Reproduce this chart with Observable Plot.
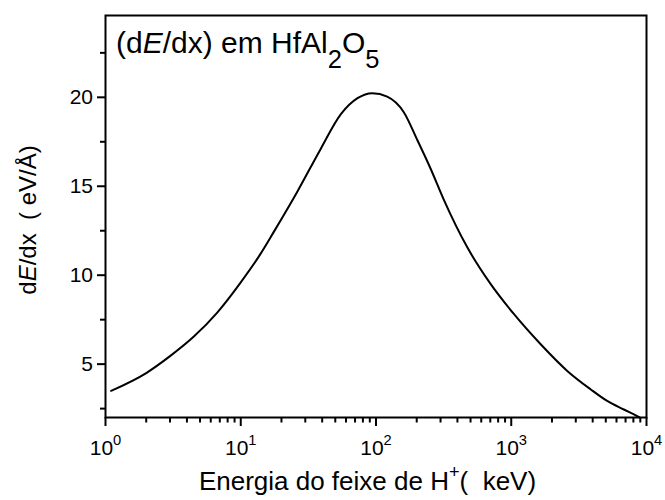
<!DOCTYPE html>
<html>
<head>
<meta charset="utf-8">
<script src="https://cdn.jsdelivr.net/npm/d3@7"></script>
<script src="https://cdn.jsdelivr.net/npm/@observablehq/plot@0.6"></script>
<style>
  html, body { margin: 0; padding: 0; background: #fff; }
  #chart svg { display: block; }
</style>
</head>
<body>
<div id="chart"></div>
<script>
// Stopping power dE/dx of H+ ions in HfAl2O5 as a function of beam energy.
const energy = [1.1, 2, 3, 4.5, 6.7, 10, 14, 17.6, 26, 39, 55, 73, 94, 121, 161, 202, 253, 317, 472, 703, 1045, 1644, 2594, 3853, 5120, 6800, 8530, 8900];
const stopping = [3.5, 4.5, 5.45, 6.55, 7.9, 9.6, 11.2, 12.45, 14.65, 17.1, 19.05, 19.95, 20.23, 20.04, 19.15, 17.6, 16.0, 14.25, 11.58, 9.51, 7.82, 6.13, 4.62, 3.59, 2.93, 2.45, 2.08, 2.0];

// Axis ticks (log x axis, linear y axis)
const xMajorTicks = [1, 10, 100, 1000, 10000];
const xMinorTicks = [1, 10, 100, 1000].flatMap(d => [2, 3, 4, 5, 6, 7, 8, 9].map(k => k * d));
const yMajorTicks = [5, 10, 15, 20];
const yMinorTicks = [2.5, 7.5, 12.5, 17.5, 22.5];

// Texts; ^x = superscript, _x = subscript, *...* = italic
const titleText = "(d*E*/dx) em HfAl_2O_5";
const xTitle = "Energia do feixe de H^+(  keV)";
const yTitle = "d*E*/dx  ( eV/Å)";

const points = energy.map((e, i) => ({energy: e, dedx: stopping[i]}));

const W = 665, H = 500;
const M = {top: 15, right: 19, bottom: 83, left: 105};
const FONT = "'Liberation Sans', Arial, Helvetica, sans-serif";
const TICK_FONT = 21;

const svg = Plot.plot({
  width: W,
  height: H,
  marginTop: M.top,
  marginRight: M.right,
  marginBottom: M.bottom,
  marginLeft: M.left,
  style: {fontFamily: FONT, fontSize: TICK_FONT + "px", color: "#000", background: "#fff", overflow: "visible"},
  x: {type: "log", domain: [1, 10000]},
  y: {domain: [2, 24.6]},
  marks: [
    Plot.axisX({ticks: xMinorTicks, tickSize: 5.5, strokeWidth: 2, tickFormat: () => "", label: null}),
    Plot.axisX({ticks: xMajorTicks, tickSize: 9, tickPadding: 14, strokeWidth: 2, fontSize: TICK_FONT,
      tickFormat: d => "10^" + Math.round(Math.log10(d)), label: null}),
    Plot.axisY({ticks: yMinorTicks, tickSize: 5, strokeWidth: 2, tickFormat: () => "", label: null}),
    Plot.axisY({ticks: yMajorTicks, tickSize: 8, tickPadding: 4.5, strokeWidth: 2, fontSize: TICK_FONT, label: null}),
    Plot.line(points, {x: "energy", y: "dedx", stroke: "#000", strokeWidth: 2, curve: "monotone-x"}),
    Plot.frame({stroke: "#000", strokeWidth: 2})
  ]
});

// Turn the little markup into tspans (italic, superscript, subscript)
function richText(el, size, opts = {}) {
  const {supScale = 0.7, supShift = -0.5, subScale = 0.7, subShift = 0.3} = opts;
  const src = el.textContent;
  while (el.firstChild) el.removeChild(el.firstChild);
  el.setAttribute("xml:space", "preserve");
  el.style.whiteSpace = "pre";
  let base = 0, italic = false;
  for (const m of src.matchAll(/\*|([\^_])(.)|[^*^_]+/g)) {
    if (m[0] === "*") { italic = !italic; continue; }
    const span = document.createElementNS("http://www.w3.org/2000/svg", "tspan");
    let off = 0, fs = size, txt = m[0];
    if (m[1]) {
      txt = m[2];
      if (m[1] === "^") { off = supShift * size; fs = supScale * size; }
      else { off = subShift * size; fs = subScale * size; }
    }
    if (off !== base) span.setAttribute("dy", off - base);
    base = off;
    span.setAttribute("font-size", fs);
    if (italic) span.setAttribute("font-style", "italic");
    span.textContent = txt;
    el.appendChild(span);
  }
}

// Exponent tick labels on the x axis
d3.select(svg).selectAll("text").each(function() {
  if (this.textContent.includes("^")) richText(this, TICK_FONT);
});

const root = d3.select(svg);
const frameCx = M.left + (W - M.left - M.right) / 2;
const frameCy = M.top + (H - M.top - M.bottom) / 2;

// Panel title inside the frame
const t = root.append("text")
  .attr("x", 116).attr("y", 53.3)
  .attr("text-anchor", "start")
  .attr("font-family", FONT).attr("font-size", 30).attr("fill", "#000")
  .text(titleText);
richText(t.node(), 30, {subScale: 0.85, subShift: 0.5});

// x axis title
const xt = root.append("text")
  .attr("x", frameCx - 8).attr("y", 490)
  .attr("text-anchor", "middle")
  .attr("font-family", FONT).attr("font-size", 26).attr("fill", "#000")
  .text(xTitle);
richText(xt.node(), 26, {supScale: 0.7, supShift: -0.45});

// y axis title
const yt = root.append("text")
  .attr("transform", `translate(36,${frameCy + 4}) rotate(-90)`)
  .attr("text-anchor", "middle")
  .attr("font-family", FONT).attr("font-size", 24).attr("fill", "#000")
  .text(yTitle);
richText(yt.node(), 24);

document.getElementById("chart").appendChild(svg);
</script>
</body>
</html>
